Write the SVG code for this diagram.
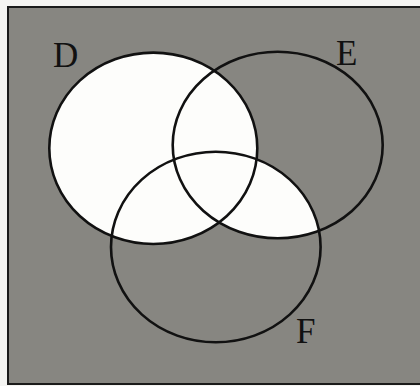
<svg xmlns="http://www.w3.org/2000/svg" width="420" height="386" viewBox="0 0 420 386">
<style>
.set{fill:none;stroke:#111;stroke-width:2.6}
.lbl{font-family:"Liberation Serif","Times New Roman",serif;font-size:35px;fill:#111}
.shade{fill:#fdfdfb}
</style>
<defs>
<clipPath id="clipE"><ellipse cx="277.7" cy="145" rx="105" ry="93.3"/></clipPath>
</defs>
<rect x="0" y="0" width="420" height="386" fill="#f4f4f2"/>
<rect id="universe" x="8" y="7" width="414" height="377" fill="#878681" stroke="#1a1a1a" stroke-width="2"/>
<g id="shading">
<ellipse class="shade" cx="153.3" cy="148.3" rx="104" ry="95.7"/>
<ellipse class="shade" cx="215.8" cy="247" rx="104.8" ry="95.3" clip-path="url(#clipE)"/>
</g>
<g id="setD">
<ellipse class="set" cx="153.3" cy="148.3" rx="104" ry="95.7"/>
<text class="lbl" x="53" y="66.5">D</text>
</g>
<g id="setE">
<ellipse class="set" cx="277.7" cy="145" rx="105" ry="93.3"/>
<text class="lbl" x="336" y="65">E</text>
</g>
<g id="setF">
<ellipse class="set" cx="215.8" cy="247" rx="104.8" ry="95.3"/>
<text class="lbl" x="296" y="343">F</text>
</g>
</svg>
